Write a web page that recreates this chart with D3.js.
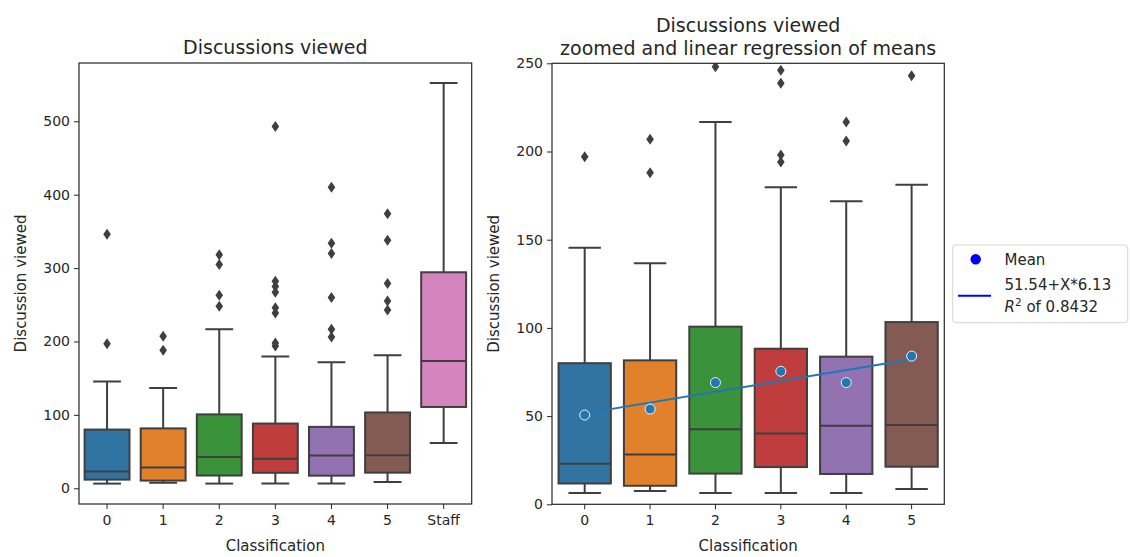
<!DOCTYPE html>
<html>
<head>
<meta charset="utf-8">
<script src="https://cdn.jsdelivr.net/npm/d3@7"></script>
<style>
    body { margin: 0; background: #fff; }
    svg text { font-family: "DejaVu Sans", sans-serif; fill: #262626; }
</style>
</head>
<body>
<div id="graph"></div>
<script>
"use strict";

// box statistics (Discussion viewed)
const categories = ["0", "1", "2", "3", "4", "5", "Staff"];
const q1s = [11.8, 10.5, 17.4, 21.1, 17.2, 21.3, 110.8];
const medians = [23, 28.3, 42.5, 40.2, 44.6, 45, 173.4];
const q3s = [80, 81.6, 100.7, 88.2, 83.7, 103.3, 294.3];
const whiskerLows = [6.4, 7.5, 6.4, 6.4, 6.4, 8.7, 61.7];
const whiskerHighs = [145.5, 136.6, 216.7, 179.7, 171.8, 181.2, 552];
const outliers = [
    [197, 346],
    [188, 207],
    [248, 263, 305, 318],
    [194, 198, 238.7, 246, 267, 275, 282, 493],
    [206, 216.7, 260, 320, 334, 410],
    [243, 255, 279, 338, 374],
    []
];
const colors = ["#3274a1", "#e1812c", "#3a923a", "#c03d3e", "#9372b2", "#845b53", "#d684bd"];

// means of classes 0..5 and the fit through them
const means = [50.6, 54, 69, 75.4, 69, 84];
const regIntercept = 51.54;
const regSlope = 6.13;
const regR2 = 0.8432;

const yTicksLeft = [0, 100, 200, 300, 400, 500];
const yTicksRight = [0, 50, 100, 150, 200, 250];

(function() {
    const width = 1130;
    const height = 557;
    const lineColor = "#3f3f3f";
    const lw = 2;

    const boxes = categories.map((c, i) => ({
        cat: c, q1: q1s[i], med: medians[i], q3: q3s[i],
        lo: whiskerLows[i], hi: whiskerHighs[i], out: outliers[i], color: colors[i]
    }));

    const svg = d3.select("#graph")
        .append("svg")
            .attr("width", width)
            .attr("height", height);

    // left panel: all classes incl. staff
    const left = {x0: 79, x1: 471.7, y0: 63, y1: 504};
    const xLeft = d3.scaleBand().domain(categories).range([left.x0, left.x1]);
    const yLeft = d3.scaleLinear().domain([-21.4, 579.4]).range([left.y1, left.y0]);
    drawPanel(left, xLeft, yLeft, boxes, yTicksLeft, "clipLeft");

    svg.append("text")
        .attr("x", (left.x0 + left.x1) / 2)
        .attr("y", 54)
        .attr("text-anchor", "middle")
        .style("font-size", "19px")
        .text("Discussions viewed");

    // right panel: zoomed, classes 0..5
    const right = {x0: 552, x1: 944.3, y0: 63.3, y1: 504.3};
    const cats2 = categories.slice(0, 6);
    const xRight = d3.scaleBand().domain(cats2).range([right.x0, right.x1]);
    const yRight = d3.scaleLinear().domain([0, 250]).range([right.y1, right.y0]);
    const g2 = drawPanel(right, xRight, yRight, boxes.slice(0, 6), yTicksRight, "clipRight");

    const line = d3.line()
        .x(d => xRight(d) + xRight.bandwidth() / 2)
        .y(d => yRight(regIntercept + regSlope * (+d)));
    g2.append("path")
        .datum([cats2[0], cats2[cats2.length - 1]])
        .attr("d", line)
        .attr("fill", "none")
        .attr("stroke", "#1f77b4")
        .attr("stroke-width", 2);

    g2.selectAll(".mean")
        .data(means)
        .enter()
        .append("circle")
            .attr("cx", (d, i) => xRight(cats2[i]) + xRight.bandwidth() / 2)
            .attr("cy", d => yRight(d))
            .attr("r", 5)
            .attr("fill", "#1f77b4")
            .attr("stroke", "#fff")
            .attr("stroke-width", 0.9);

    const title = svg.append("text")
        .attr("x", (right.x0 + right.x1) / 2)
        .attr("text-anchor", "middle")
        .style("font-size", "19px");
    title.append("tspan").attr("x", (right.x0 + right.x1) / 2).attr("y", 31.5).text("Discussions viewed");
    title.append("tspan").attr("x", (right.x0 + right.x1) / 2).attr("y", 55).text("zoomed and linear regression of means");

    drawLegend();

    function drawPanel(box, xScale, yScale, data, ticks, clipId) {
        const g = svg.append("g");
        svg.append("clipPath")
            .attr("id", clipId)
            .append("rect")
                .attr("x", box.x0)
                .attr("y", box.y0)
                .attr("width", box.x1 - box.x0)
                .attr("height", box.y1 - box.y0);

        const plot = g.append("g").attr("clip-path", "url(#" + clipId + ")");
        const bw = xScale.bandwidth() * 0.8;
        const cw = bw * 0.62;

        const item = plot.selectAll(".box")
            .data(data)
            .enter()
            .append("g")
                .attr("transform", d => "translate(" + (xScale(d.cat) + xScale.bandwidth() / 2) + ",0)");

        // whiskers
        item.append("line")
            .attr("x1", 0).attr("x2", 0)
            .attr("y1", d => yScale(d.q3)).attr("y2", d => yScale(d.hi))
            .attr("stroke", lineColor).attr("stroke-width", lw);
        item.append("line")
            .attr("x1", 0).attr("x2", 0)
            .attr("y1", d => yScale(d.q1)).attr("y2", d => yScale(d.lo))
            .attr("stroke", lineColor).attr("stroke-width", lw);
        item.append("line")
            .attr("x1", -cw / 2).attr("x2", cw / 2)
            .attr("y1", d => yScale(d.hi)).attr("y2", d => yScale(d.hi))
            .attr("stroke", lineColor).attr("stroke-width", lw);
        item.append("line")
            .attr("x1", -cw / 2).attr("x2", cw / 2)
            .attr("y1", d => yScale(d.lo)).attr("y2", d => yScale(d.lo))
            .attr("stroke", lineColor).attr("stroke-width", lw);

        item.append("rect")
            .attr("x", -bw / 2)
            .attr("width", bw)
            .attr("y", d => yScale(d.q3))
            .attr("height", d => yScale(d.q1) - yScale(d.q3))
            .attr("fill", d => d.color)
            .attr("stroke", lineColor)
            .attr("stroke-width", lw);
        item.append("line")
            .attr("x1", -bw / 2).attr("x2", bw / 2)
            .attr("y1", d => yScale(d.med)).attr("y2", d => yScale(d.med))
            .attr("stroke", lineColor).attr("stroke-width", lw);

        item.selectAll(".flier")
            .data(d => d.out)
            .enter()
            .append("path")
                .attr("d", "M0,-5.5 L3.8,0 L0,5.5 L-3.8,0 Z")
                .attr("transform", d => "translate(0," + yScale(d) + ")")
                .attr("fill", lineColor);

        // axes
        const xAxis = g.append("g")
            .attr("transform", "translate(0," + box.y1 + ")")
            .call(d3.axisBottom(xScale).tickSize(5).tickPadding(6));
        const yAxis = g.append("g")
            .attr("transform", "translate(" + box.x0 + ",0)")
            .call(d3.axisLeft(yScale).tickValues(ticks).tickSize(5).tickPadding(4));
        [xAxis, yAxis].forEach(a => {
            a.select(".domain").remove();
            a.selectAll(".tick line").attr("stroke", "#262626").attr("stroke-width", 1);
            a.selectAll(".tick text").style("font-size", "14px").attr("fill", "#262626");
        });

        g.append("rect")
            .attr("x", box.x0)
            .attr("y", box.y0)
            .attr("width", box.x1 - box.x0)
            .attr("height", box.y1 - box.y0)
            .attr("fill", "none")
            .attr("stroke", "#262626")
            .attr("stroke-width", 1.2);

        g.append("text")
            .attr("x", (box.x0 + box.x1) / 2)
            .attr("y", 551)
            .attr("text-anchor", "middle")
            .style("font-size", "15px")
            .text("Classification");

        g.append("text")
            .attr("transform", "translate(" + (box.x0 - 53) + "," + ((box.y0 + box.y1) / 2) + ") rotate(-90)")
            .attr("text-anchor", "middle")
            .style("font-size", "15px")
            .text("Discussion viewed");
        return g;
    }

    function drawLegend() {
        const lg = svg.append("g");
        lg.append("rect")
            .attr("x", 952.7).attr("y", 245)
            .attr("width", 175).attr("height", 77.7)
            .attr("rx", 3)
            .attr("fill", "#fff")
            .attr("stroke", "#d6d6d6")
            .attr("stroke-width", 1);
        lg.append("circle")
            .attr("cx", 975.7).attr("cy", 259.3)
            .attr("r", 5.2)
            .attr("fill", "blue");
        lg.append("line")
            .attr("x1", 958).attr("x2", 991)
            .attr("y1", 295.7).attr("y2", 295.7)
            .attr("stroke", "blue")
            .attr("stroke-width", 2);
        lg.append("text")
            .attr("x", 1004.5).attr("y", 265)
            .style("font-size", "15px")
            .text("Mean");
        lg.append("text")
            .attr("x", 1004.5).attr("y", 290)
            .style("font-size", "15px")
            .text(regIntercept.toFixed(2) + "+X*" + regSlope.toFixed(2));
        const r = lg.append("text")
            .attr("x", 1004.5).attr("y", 311.5)
            .style("font-size", "15px");
        r.append("tspan").style("font-style", "italic").text("R");
        r.append("tspan").attr("dy", -6).style("font-size", "10.5px").text("2");
        r.append("tspan").attr("dy", 6).text(" of " + regR2.toFixed(4));
    }
})();
</script>
</body>
</html>
